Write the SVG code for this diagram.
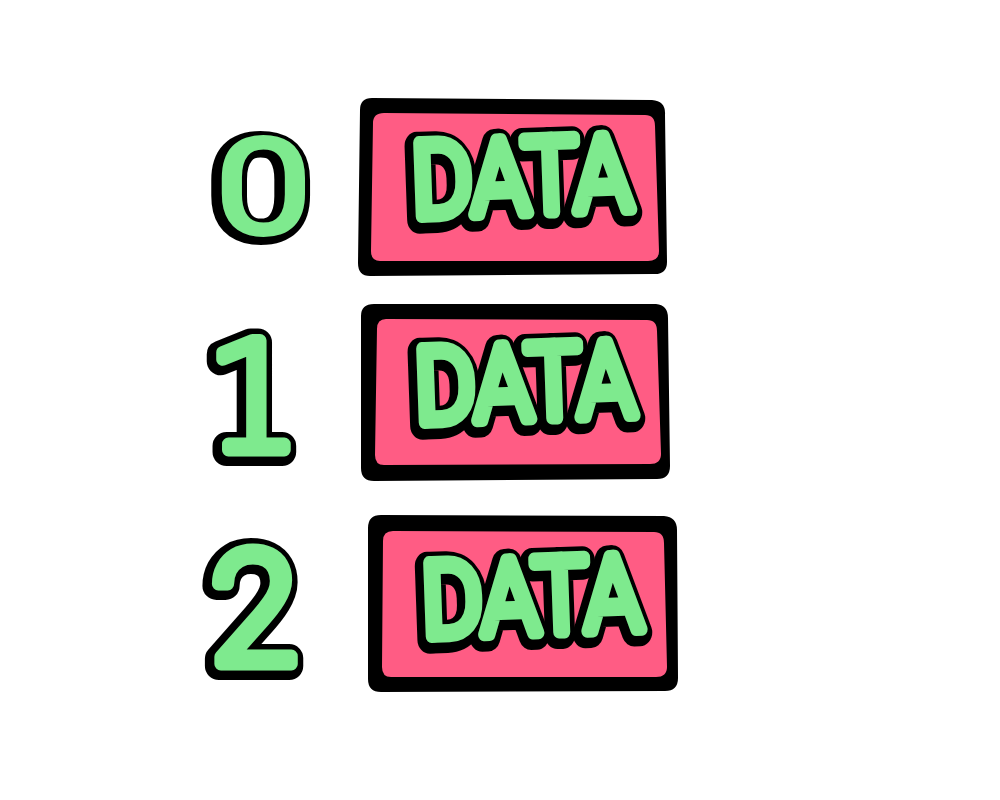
<svg xmlns="http://www.w3.org/2000/svg" width="1000" height="800" viewBox="0 0 1000 800">
  <style>
    .outer { fill: #000; }
    .inner { fill: #ff5c84; }
    .t { font-family: "Roboto", "Inter", sans-serif; font-weight: 300; text-anchor: middle; }
    .d { font-family: "DejaVu Sans", sans-serif; font-weight: 200; text-anchor: middle; }
    .ol { fill: #000; stroke: #000; stroke-width: 28; stroke-linejoin: round; stroke-linecap: round; }
    .fg { fill: #7eea8e; stroke: #7eea8e; stroke-width: 13; stroke-linejoin: round; stroke-linecap: round; }
    .thin.ol { stroke-width: 20; }
    .thin.fg { stroke-width: 8; }
  </style>
  <rect width="1000" height="800" fill="#fff"/>
  <g id="digit0" transform="translate(262 0) scale(1.3 1) translate(-262 0)">
    <text class="t thin ol" x="261" y="234" font-size="128">0</text>
    <text class="t thin fg" x="263" y="232" font-size="128">0</text>
  </g>
  <g id="digit1">
    <text class="d ol" x="252" y="452" font-size="150">1</text>
    <text class="d fg" x="254" y="450" font-size="150">1</text>
  </g>
  <g id="digit2">
    <text class="t ol" x="252" y="666" font-size="158">2</text>
    <text class="t fg" x="254" y="664" font-size="158">2</text>
  </g>
  <g id="box0">
    <path class="outer" d="M372,98 L652,100 Q666,101 665,115 L667,262 Q667,275 653,274 L370,276 Q358,276 358,263 L360,110 Q360,98 372,98 Z"/>
    <path class="inner" d="M384,113 L645,115 Q655,115 655,126 L659,251 Q659,261 648,261 L380,261 Q371,261 371,251 L373,123 Q373,113 384,113 Z"/>
    <g transform="rotate(-2 522 180)">
      <text class="t ol" x="520" y="216" font-size="104" textLength="220" lengthAdjust="spacingAndGlyphs">DATA</text>
      <text class="t fg" x="522" y="213" font-size="104" textLength="220" lengthAdjust="spacingAndGlyphs">DATA</text>
    </g>
  </g>
  <g id="box1">
    <path class="outer" d="M374,304 L656,304 Q668,305 668,318 L670,466 Q670,479 657,479 L374,481 Q361,481 361,468 L361,316 Q361,304 374,304 Z"/>
    <path class="inner" d="M386,319 L647,320 Q657,320 657,331 L661,454 Q661,464 650,464 L384,465 Q375,465 375,455 L377,329 Q377,319 386,319 Z"/>
    <g transform="rotate(-2 525 385)">
      <text class="t ol" x="523" y="422" font-size="104" textLength="220" lengthAdjust="spacingAndGlyphs">DATA</text>
      <text class="t fg" x="525" y="419" font-size="104" textLength="220" lengthAdjust="spacingAndGlyphs">DATA</text>
    </g>
  </g>
  <g id="box2">
    <path class="outer" d="M381,515 L664,516 Q677,517 677,530 L678,678 Q678,691 665,691 L381,692 Q368,692 368,679 L368,528 Q368,515 381,515 Z"/>
    <path class="inner" d="M393,531 L654,532 Q664,532 664,543 L667,667 Q667,677 656,677 L391,677 Q382,677 382,667 L383,541 Q383,531 393,531 Z"/>
    <g transform="rotate(-2 532 598)">
      <text class="t ol" x="530" y="636" font-size="104" textLength="220" lengthAdjust="spacingAndGlyphs">DATA</text>
      <text class="t fg" x="532" y="633" font-size="104" textLength="220" lengthAdjust="spacingAndGlyphs">DATA</text>
    </g>
  </g>
  <g id="connectors"/>
</svg>
